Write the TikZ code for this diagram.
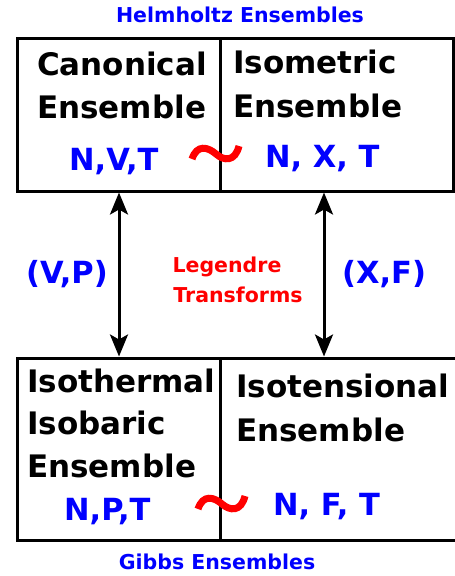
\documentclass[tikz,border=0pt]{standalone}
\usepackage{fontspec}
\setmainfont{DejaVu Sans}
\usetikzlibrary{arrows.meta}
\definecolor{myblue}{RGB}{0,0,255}
\definecolor{myred}{RGB}{255,0,0}
\tikzset{
  box/.style={draw=black, line width=3pt, inner sep=0pt},
  big/.style={font=\bfseries\fontsize{31}{36}\selectfont, inner sep=0pt, anchor=base west},
  vars/.style={font=\bfseries\fontsize{30.5}{34}\selectfont, text=myblue, inner sep=0pt, anchor=base west},
  small/.style={font=\bfseries\fontsize{20.5}{24}\selectfont, inner sep=0pt, anchor=base},
  twoway/.style={line width=3pt, {Stealth[width=18pt,length=22pt,inset=5pt]}-{Stealth[width=18pt,length=22pt,inset=5pt]}},
  tildeline/.style={draw=myred, line width=7pt},
}
\begin{document}
\begin{tikzpicture}[x=1pt,y=-1pt]
\useasboundingbox (0,0) rectangle (455,576);
\begin{scope}
\clip (0,0) rectangle (455,576);
% boxes
\node[box, minimum width=203pt, minimum height=153pt] (cano) at (118.5,114.5) {};
\node[box, minimum width=233pt, minimum height=153pt] (isom) at (336.5,114.5) {};
\node[box, minimum width=203pt, minimum height=182pt] (npt) at (118.5,449) {};
\node[box, minimum width=240pt, minimum height=182pt] (iten) at (340,449) {};
\end{scope}
% titles
\node[small, text=myblue] (helm) at (240,22) {Helmholtz Ensembles};
\node[small, text=myblue] (gibbs) at (217,569) {Gibbs Ensembles};
% top left
\node[big] (c1) at (37,75) {Canonical};
\node[big] (c2) at (37,118) {Ensemble};
\node[vars] (c3) at (69,170) {N,V,T};
% top right
\node[big] (m1) at (233,73) {Isometric};
\node[big] (m2) at (233,117) {Ensemble};
\node[vars] (m3) at (265,167) {N, X, T};
% bottom left
\node[big] (b1) at (27,392) {Isothermal};
\node[big] (b2) at (27,434) {Isobaric};
\node[big] (b3) at (27,477) {Ensemble};
\node[vars] (b4) at (64,520) {N,P,T};
% bottom right
\node[big] (t1) at (236,397) {Isotensional};
\node[big] (t2) at (236,441) {Ensemble};
\node[vars] (t3) at (273,515) {N, F, T};
% arrows
\draw[twoway] (cano.south -| 119,0) -- (npt.north -| 119,0);
\draw[twoway] (isom.south -| 324,0) -- (iten.north -| 324,0);
\node[vars] (vp) at (26,283) {(V,P)};
\node[vars] (xf) at (342,283) {(X,F)};
\node[small, text=myred] (leg1) at (227,272) {Legendre};
\node[small, text=myred] (leg2) at (238,302) {Transforms};
% tildes
\draw[tildeline] (192,159) .. controls (197,144) and (208,147) .. (216,154) .. controls (224,161) and (235,162) .. (239,146);
\draw[tildeline] (198,509) .. controls (203,494) and (214,497) .. (222,504) .. controls (230,511) and (241,512) .. (245,496);
\end{tikzpicture}
\end{document}
